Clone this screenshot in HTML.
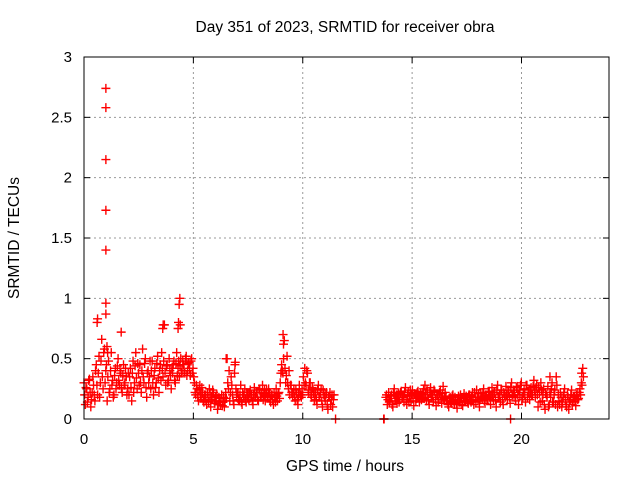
<!DOCTYPE html>
<html><head><meta charset="utf-8"><style>
body{margin:0;background:#fff}
svg{display:block;font-family:"Liberation Sans",sans-serif}
</style></head><body>
<svg id="chart" width="640" height="480">
<text x="345" y="32" text-anchor="middle" font-size="15.5">Day 351 of 2023, SRMTID for receiver obra</text>
<text x="345" y="471" text-anchor="middle" font-size="15.5">GPS time / hours</text>
<text x="19" y="238" text-anchor="middle" font-size="15.5" transform="rotate(-90 19 238)">SRMTID / TECUs</text>
<g id="grid"></g><g id="ticks"></g><g id="marks"></g>
<rect x="84" y="57" width="525" height="362" fill="none" stroke="#000" stroke-width="1"/>
</svg>
<script>
const xTicks=[0,5,10,15,20];
const yTicks=[0,0.5,1,1.5,2,2.5,3];
const yTickLabels=["0","0.5","1","1.5","2","2.5","3"];
const segAStart=0, segAEnd=11.4;
const segAValues=[.30,.12,.25,.18,.33,.10,.22,.28,.15,
.45,.20,.52,.30,.66,.25,.58,.40,
.15,.48,.25,.55,.32,.20,.42,.30,
.50,.28,.38,.22,.45,.30,.35,.25,
.20,.42,.15,.48,.30,.55,.25,.38,
.45,.22,.58,.30,.50,.18,.40,.35,
.25,.48,.20,.42,.30,.52,.22,.45,
.55,.35,.78,.28,.45,.32,.40,.25,
.38,.48,.30,.55,.42,.35,.50,.40,
.45,.38,.52,.40,.47,.36,.50,.42,
.30,.20,.25,.15,.28,.18,.22,.14,
.20,.12,.18,.25,.10,.16,.22,.13,
.15,.08,.18,.12,.20,.14,.10,.22,
.50,.25,.15,.35,.20,.12,.47,.18,
.22,.15,.28,.12,.20,.25,.14,.18,
.16,.24,.20,.12,.26,.18,.22,.15,
.25,.18,.28,.20,.15,.24,.19,.22,
.14,.20,.12,.18,.25,.15,.22,.30,
.45,.38,.65,.30,.52,.25,.20,.28,
.18,.25,.15,.22,.12,.28,.20,.25,
.35,.42,.28,.38,.22,.30,.18,.25,
.15,.22,.12,.28,.18,.25,.10,.20,
.15,.22,.08,.18,.12,.20,.16];
const segA2Values=[.20,.26,.14,.32,.22,.16,.35,.20,.40,
.28,.38,.18,.48,.35,.55,.30,.45,
.35,.22,.40,.28,.18,.36,.25,.44,
.32,.40,.26,.36,.28,.42,.20,.38,
.35,.26,.38,.22,.44,.34,.46,.28,
.30,.40,.35,.46,.26,.38,.30,.48,
.40,.30,.36,.26,.46,.34,.40,.32,
.42,.48,.38,.44,.30,.50,.36,.42,
.45,.32,.46,.36,.48,.44,.38,.48,
.40,.50,.36,.46,.42,.48,.38,.35,
.22,.28,.18,.24,.20,.26,.16,.20,
.15,.22,.14,.20,.18,.24,.15,.19,
.20,.12,.14,.17,.11,.18,.15,.17,
.30,.40,.22,.28,.15,.38,.25,.22,
.16,.20,.14,.22,.18,.16,.22,.20,
.22,.18,.15,.20,.18,.22,.16,.24,
.18,.22,.16,.24,.21,.18,.25,.16,
.20,.16,.22,.14,.19,.21,.17,.38,
.40,.50,.42,.36,.30,.40,.28,.22,
.22,.18,.24,.16,.20,.22,.18,.20,
.28,.30,.40,.24,.30,.20,.26,.22,
.20,.16,.24,.18,.22,.15,.24,.18,
.20,.12,.18,.22,.16,.10,.20];
const segBStart=13.8, segBEnd=22.8;
const segBValues=[.18,.12,.22,.15,.20,.10,.25,.17,.13,.21,.16,.23,
.18,.14,.26,.12,.22,.19,.15,.24,.11,.20,.17,.23,.14,.21,.18,.25,
.28,.15,.22,.12,.26,.18,.14,.23,.11,.20,.16,.24,.13,.27,.17,.19,
.15,.10,.18,.13,.20,.12,.16,.09,.19,.14,.17,.11,.21,.15,.18,.13,
.20,.14,.22,.12,.18,.24,.15,.10,.21,.17,.25,.13,.19,.16,.23,.12,
.26,.15,.22,.10,.28,.18,.14,.24,.12,.20,.27,.16,.22,.13,.30,.19,
.22,.15,.27,.12,.20,.30,.18,.25,.14,.28,.22,.16,.26,.20,.32,.18,
.28,.10,.22,.30,.15,.25,.08,.20,.27,.12,.18,.30,.14,.24,.35,.10,
.15,.22,.10,.18,.25,.12,.20,.08,.16,.24,.14,.19,.11,.22,.17,.25,.30,.42];
const segB2Values=[.20,.16,.14,.19,.12,.22,.15,.20,.18,.14,.22,.18,
.20,.22,.16,.20,.14,.24,.20,.17,.21,.15,.22,.19,.18,.16,.22,.17,
.20,.24,.16,.22,.18,.20,.24,.16,.20,.14,.22,.18,.21,.16,.22,.15,
.12,.17,.14,.19,.15,.18,.13,.16,.14,.20,.12,.18,.15,.19,.14,.20,
.16,.19,.15,.22,.14,.18,.21,.16,.18,.22,.15,.20,.17,.22,.18,.20,
.18,.22,.16,.24,.18,.20,.24,.16,.22,.18,.20,.24,.18,.26,.20,.24,
.18,.26,.20,.24,.28,.16,.22,.20,.28,.18,.24,.22,.20,.27,.24,.26,
.20,.26,.14,.24,.20,.12,.22,.18,.10,.22,.25,.14,.20,.12,.28,.20,
.12,.18,.14,.22,.16,.10,.18,.14,.20,.12,.18,.15,.20,.16,.22,.20,.28,.35];
const extraHours=[1.0,1.0,1.0,1.0,1.0,1.0,1.0,1.05,1.08,0.6,0.62,1.7,3.6,3.62,4.3,4.32,4.35,4.38,4.4,9.1,9.12,6.5,6.9,11.5,13.7,13.72,19.5,21.3,22.75];
const extraValues=[0.87,0.96,1.4,1.73,2.15,2.58,2.74,0.6,0.55,0.8,0.83,0.72,0.75,0.78,0.75,0.8,0.95,1.0,0.78,0.7,0.62,0.5,0.45,0,0,0,0,0.35,0.38];
const X0=84,X1=609,Y0=419,Y1=57,XMAX=24,YMAX=3;
const sx=h=>X0+(X1-X0)*h/XMAX;
const sy=v=>Y0-(Y0-Y1)*v/YMAX;
const NS="http://www.w3.org/2000/svg";
const grid=document.getElementById('grid'),ticks=document.getElementById('ticks'),marks=document.getElementById('marks');
function mk(tag,at,parent){const e=document.createElementNS(NS,tag);for(const k in at)e.setAttribute(k,at[k]);parent.appendChild(e);return e;}
xTicks.forEach(t=>{const x=sx(t);
 if(t>0){const g=mk('line',{x1:x,x2:x,y1:Y0,y2:Y1,stroke:'#999','stroke-dasharray':'2,3'},grid);
 
 }
 mk('line',{x1:x,x2:x,y1:Y0,y2:Y0-6,stroke:'#000'},ticks);
 mk('line',{x1:x,x2:x,y1:Y1,y2:Y1+6,stroke:'#000'},ticks);
 const l=mk('text',{x:x,y:444,'text-anchor':'middle','font-size':15},ticks);l.textContent=t;
 
 });
yTicks.forEach((t,i)=>{const y=sy(t);
 if(t>0&&t<3){const g=mk('line',{x1:X0,x2:X1,y1:y,y2:y,stroke:'#999','stroke-dasharray':'2,3'},grid);
 
 }
 mk('line',{x1:X0,x2:X0+6,y1:y,y2:y,stroke:'#000'},ticks);
 mk('line',{x1:X1,x2:X1-6,y1:y,y2:y,stroke:'#000'},ticks);
 const l=mk('text',{x:72,y:y+5,'text-anchor':'end','font-size':15},ticks);l.textContent=yTickLabels[i];
 
 });
function plus(h,v,c){const x=sx(h),y=sy(v);
 const p=mk('path',{d:`M${x-4.5} ${y}h9M${x} ${y-4.5}v9`,stroke:c,'stroke-width':1.4,fill:'none'},marks);
 
 }
function seg(t0,t1,vals){const n=vals.length;vals.forEach((v,i)=>plus(t0+(t1-t0)*i/(n-1),v,'#f00'));}
seg(segAStart,segAEnd,segAValues);
seg(segAStart+0.03,segAEnd+0.03,segA2Values);
seg(segBStart,segBEnd,segBValues);
seg(segBStart+0.03,segBEnd+0.03,segB2Values);
extraHours.forEach((h,i)=>plus(h,extraValues[i],'#f00'));
</script>
</body></html>
